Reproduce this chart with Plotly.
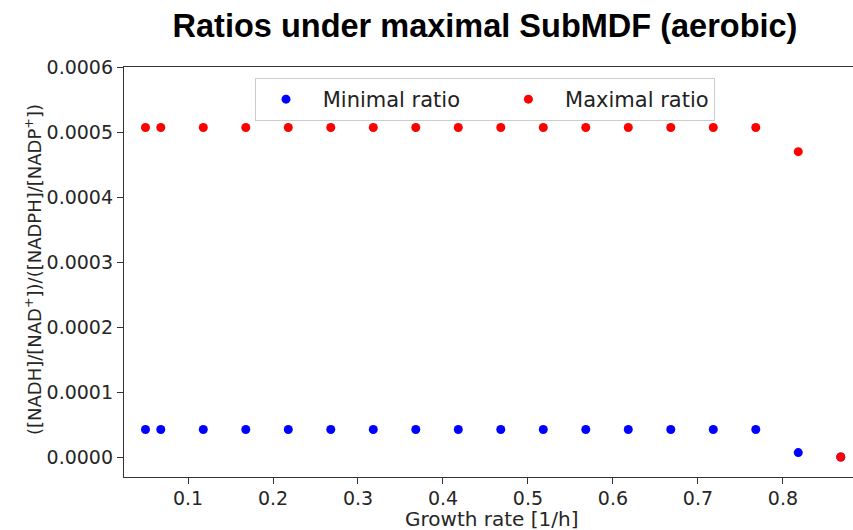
import plotly.graph_objects as go

# Growth rates sampled (1/h)
growth_rate = [0.05, 0.068, 0.118, 0.168, 0.218, 0.268, 0.318, 0.368, 0.418,
               0.468, 0.518, 0.568, 0.618, 0.668, 0.718, 0.768, 0.818, 0.868]

# Ratio bounds under maximal SubMDF
min_ratio = [0.0000431] * 16 + [0.0000077, 0.0000009]
max_ratio = [0.000507] * 16 + [0.000470, 0.0000009]

y_ticks = [0.0, 0.0001, 0.0002, 0.0003, 0.0004, 0.0005, 0.0006]
x_ticks = [0.1, 0.2, 0.3, 0.4, 0.5, 0.6, 0.7, 0.8]

W, H = 853, 530
L, R, T, B = 124, 0, 67, 53
pw, ph = W - L - R, H - T - B

def px_x(p):
    return (p - L) / pw

def px_y(p):
    return (H - B - p) / ph

NB = "\u00a0"
tick_font = dict(family="DejaVu Sans", size=19, color="#262626")

fig = go.Figure()
fig.add_trace(go.Scatter(
    x=growth_rate, y=min_ratio, mode="markers",
    name=NB + "Minimal ratio" + NB * 5,
    marker=dict(color="#0000ff", size=9, line=dict(width=0)),
))
fig.add_trace(go.Scatter(
    x=growth_rate, y=max_ratio, mode="markers",
    name=NB + "Maximal ratio",
    marker=dict(color="#ff0000", size=9, line=dict(width=0)),
))

axis_common = dict(
    showgrid=False, zeroline=False, showline=True, linecolor="#333333",
    linewidth=1.3, ticks="outside", ticklen=6, tickwidth=1.2,
    tickcolor="#333333", tickfont=tick_font,
)

fig.update_xaxes(range=[0.0247, 0.8824], tickvals=x_ticks,
                 ticktext=[f"{v:.1f}" for v in x_ticks], mirror=True,
                 ticklabelstandoff=-2, **axis_common)
fig.update_yaxes(range=[-0.0000298, 0.0006], tickvals=y_ticks,
                 ticktext=[f"{v:.4f}" for v in y_ticks], **axis_common)

fig.update_layout(
    width=W, height=H,
    margin=dict(l=L, r=R, t=T, b=B),
    plot_bgcolor="white", paper_bgcolor="white",
    title=dict(
        text="<b>Ratios under maximal SubMDF (aerobic)</b>",
        font=dict(family="Liberation Sans, Arial", size=32.5, color="#000000"),
        x=485 / W, xref="container", xanchor="center",
        y=1 - 26 / H, yref="container", yanchor="middle",
    ),
    legend=dict(
        orientation="h", x=px_x(255), y=px_y(78), xanchor="left", yanchor="top",
        bgcolor="rgba(255,255,255,0.85)", bordercolor="#cccccc", borderwidth=1,
        font=dict(family="DejaVu Sans", size=21, color="#222222"),
        itemwidth=50,
    ),
    annotations=[
        dict(text="Growth rate [1/h]", xref="paper", yref="paper",
             x=px_x(491), y=px_y(519), xanchor="center", yanchor="middle",
             showarrow=False, font=dict(family="DejaVu Sans", size=20, color="#262626")),
        dict(text="([NADH]/[NAD<sup>+</sup>])/([NADPH]/[NADP<sup>+</sup>])",
             xref="paper", yref="paper", x=px_x(33), y=px_y(270),
             xanchor="center", yanchor="middle", textangle=-90,
             showarrow=False, font=dict(family="DejaVu Sans", size=18, color="#262626")),
    ],
)

fig.write_html("out.html")
